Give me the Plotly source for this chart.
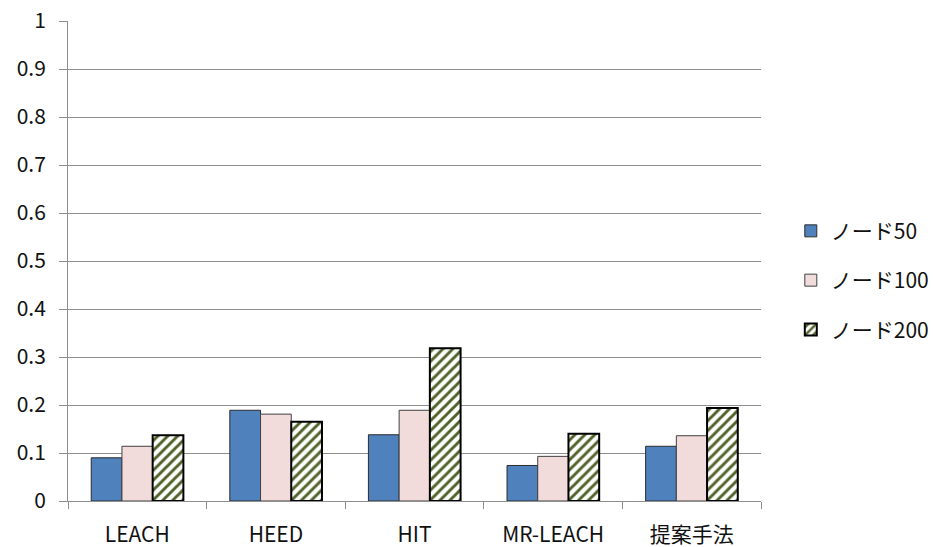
import plotly.graph_objects as go

categories = ["LEACH", "HEED", "HIT", "MR-LEACH", "提案手法"]
node50 = [0.090, 0.189, 0.138, 0.074, 0.114]
node100 = [0.114, 0.181, 0.189, 0.093, 0.136]
node200 = [0.137, 0.165, 0.318, 0.140, 0.194]
series_names = ["ノード50", "ノード100", "ノード200"]
y_ticks = [0, 0.1, 0.2, 0.3, 0.4, 0.5, 0.6, 0.7, 0.8, 0.9, 1]
y_tick_text = ["0", "0.1", "0.2", "0.3", "0.4", "0.5", "0.6", "0.7", "0.8", "0.9", "1"]

FONT = "Noto Sans CJK JP, Liberation Sans, sans-serif"
GRID = "#8e8e8e"
TEXT = "#111111"

fig = go.Figure()
fig.add_trace(go.Bar(
    x=categories, y=node50, name=series_names[0], legendgroup="a",
    marker=dict(color="#4F81BD", line=dict(color="#2b2b2b", width=1)),
))
fig.add_trace(go.Bar(
    x=categories, y=node100, name=series_names[1], legendgroup="b",
    marker=dict(color="#F2DCDB", line=dict(color="#404040", width=1)),
))
fig.add_trace(go.Bar(
    x=categories, y=node200, name=series_names[2], legendgroup="c",
    marker=dict(
        color="white",
        line=dict(color="#000000", width=2),
        pattern=dict(shape="/", fgcolor="#4F6228", bgcolor="white",
                     size=7, solidity=0.42, fillmode="replace"),
    ),
))

fig.update_layout(
    width=933, height=547,
    margin=dict(l=68, r=172, t=21, b=46, autoexpand=False),
    paper_bgcolor="white", plot_bgcolor="white",
    barmode="group", bargap=0.335, bargroupgap=0,
    font=dict(family=FONT, size=21, color=TEXT),
    showlegend=True,
    legend=dict(
        x=1.043, y=0.46, xanchor="left", yanchor="middle",
        font=dict(family=FONT, size=21, color=TEXT),
        tracegroupgap=19, itemwidth=30,
        bgcolor="rgba(0,0,0,0)",
    ),
    xaxis=dict(
        type="category", tickson="boundaries", automargin=False,
        showline=True, linecolor=GRID, linewidth=1,
        ticks="outside", ticklen=7, tickcolor=GRID,
        showgrid=False, ticklabelstandoff=15,
    ),
    yaxis=dict(
        range=[0, 1], tickvals=y_ticks, ticktext=y_tick_text, automargin=False,
        showline=True, linecolor=GRID, linewidth=1,
        ticks="outside", ticklen=8, tickcolor=GRID,
        showgrid=True, gridcolor=GRID, gridwidth=1,
        zeroline=False, ticklabelstandoff=9,
    ),
)

fig.write_html("out.html")
